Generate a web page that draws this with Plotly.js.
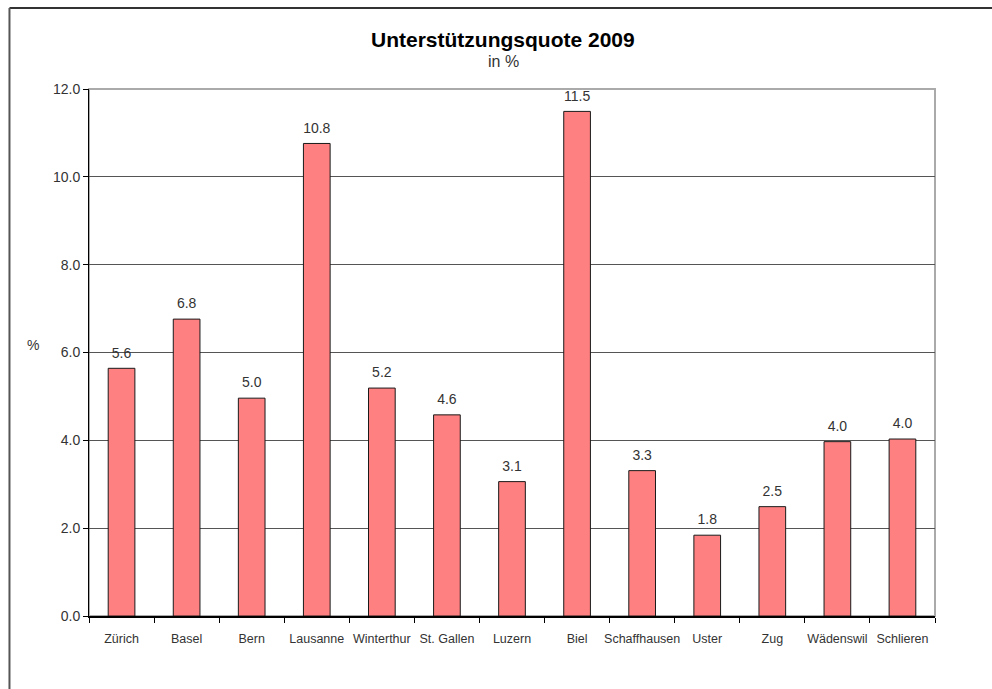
<!DOCTYPE html>
<html>
<head>
<meta charset="utf-8">
<script src="https://cdn.plot.ly/plotly-3.0.1.min.js"></script>
<style>html,body{margin:0;padding:0;background:#fff;}#chart{width:992px;height:689px;}</style>
</head>
<body>
<div id="chart"></div>
<script>
const cities = ["Zürich","Basel","Bern","Lausanne","Winterthur","St. Gallen","Luzern","Biel","Schaffhausen","Uster","Zug","Wädenswil","Schlieren"];
const quote = [5.64, 6.76, 4.96, 10.76, 5.19, 4.58, 3.06, 11.49, 3.31, 1.84, 2.49, 3.97, 4.03];
const yTicks = [0, 2, 4, 6, 8, 10, 12];
const chartTitle = "Unterstützungsquote 2009";
const chartSubtitle = "in %";
const yLabel = "%";

const font = "Liberation Sans, Arial, Helvetica, sans-serif";

const bars = {
  type: "bar",
  x: cities,
  y: quote,
  marker: {color: "#FF8080", line: {color: "#1a1a1a", width: 1}},
  hoverinfo: "x+y"
};

const labels = {
  type: "scatter",
  mode: "markers+text",
  x: cities,
  y: quote,
  marker: {size: 10, opacity: 0},
  texttemplate: "%{y:.1f}",
  textposition: "top center",
  textfont: {family: font, size: 14, color: "#333"},
  cliponaxis: false,
  hoverinfo: "skip"
};

const layout = {
  width: 992, height: 689,
  margin: {l: 89, r: 57, t: 89, b: 73},
  paper_bgcolor: "#fff", plot_bgcolor: "#fff",
  showlegend: false,
  bargap: 0.59,
  font: {family: font, color: "#333"},
  xaxis: {
    type: "category",
    range: [-0.5, cities.length - 0.5],
    tickson: "boundaries",
    ticks: "outside", ticklen: 5, tickcolor: "#000", tickwidth: 1,
    showline: true, linecolor: "#000", linewidth: 2,
    showgrid: false,
    tickangle: 0,
    tickfont: {family: font, size: 12.5, color: "#333"},
    ticklabelstandoff: 10,
    fixedrange: true
  },
  yaxis: {
    range: [0, 12],
    tickvals: yTicks,
    tickformat: ".1f",
    ticks: "outside", ticklen: 5, tickcolor: "#000",
    showline: true, linecolor: "#000", linewidth: 1,
    showgrid: true, gridcolor: "#555", gridwidth: 1,
    zeroline: false,
    tickfont: {family: font, size: 14, color: "#333"},
    fixedrange: true
  },
  shapes: [
    {type: "rect", xref: "paper", yref: "paper", x0: 0, x1: 1, y0: 0, y1: 1,
     line: {color: "#aaa", width: 2}, layer: "below"},
    {type: "line", xref: "paper", yref: "paper", x0: -0.094, x1: 1.1, y0: 1.1537, y1: 1.1537,
     line: {color: "#333", width: 2}},
    {type: "line", xref: "paper", yref: "paper", x0: -0.094, x1: -0.094, y0: 1.1537, y1: -0.2,
     line: {color: "#555", width: 2}}
  ],
  annotations: [
    {text: "<b>" + chartTitle + "</b>", xref: "paper", yref: "paper",
     x: (503 - 89) / 846, y: (616 - 40) / 527, xanchor: "center", yanchor: "middle",
     showarrow: false, font: {family: font, size: 21, color: "#000"}},
    {text: chartSubtitle, xref: "paper", yref: "paper",
     x: (503 - 89) / 846, y: (616 - 62) / 527, xanchor: "center", yanchor: "middle",
     showarrow: false, font: {family: font, size: 16, color: "#333"}},
    {text: yLabel, xref: "paper", yref: "paper",
     x: (33 - 89) / 846, y: (616 - 345) / 527, xanchor: "center", yanchor: "middle",
     showarrow: false, font: {family: font, size: 14, color: "#333"}}
  ]
};

Plotly.newPlot("chart", [bars, labels], layout, {displayModeBar: false, staticPlot: true});
</script>
</body>
</html>
